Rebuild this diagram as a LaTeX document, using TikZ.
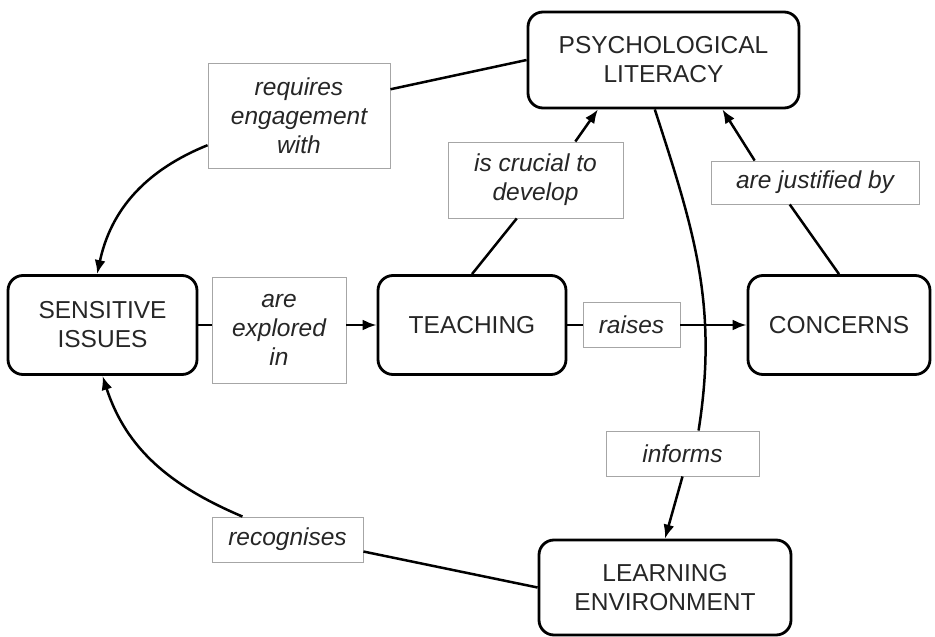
\documentclass[tikz,border=0pt]{standalone}
\usepackage{fontspec}
\setmainfont{Liberation Sans}
\usetikzlibrary{arrows.meta}

\begin{document}
\begin{tikzpicture}[x=1pt,y=1pt,
  concept/.style={draw, line width=2.8pt, rounded corners=15pt, align=center,
    text=black!85, font=\fontsize{24.5}{29}\selectfont, inner sep=0pt},
  linkword/.style={draw=black!35, line width=0.9pt, fill=white, align=center,
    text=black!85, font=\fontsize{24.5}{29}\selectfont\itshape, inner sep=0pt},
  conn/.style={line width=2.5pt},
  arr/.style={conn, -{Latex[length=14pt,width=11pt]}}]
\useasboundingbox (0,0) rectangle (935,-637);

% concepts
\node[concept, minimum width=271pt, minimum height=96pt] (psy) at (663.5,-60) {PSYCHOLOGICAL\\LITERACY};
\node[concept, minimum width=189pt, minimum height=99pt] (sens) at (102.5,-325) {SENSITIVE\\ISSUES};
\node[concept, minimum width=188pt, minimum height=99pt] (teach) at (472,-325) {TEACHING};
\node[concept, minimum width=182pt, minimum height=99pt] (conc) at (839,-325) {CONCERNS};
\node[concept, minimum width=252pt, minimum height=95pt] (learn) at (665,-587.5) {LEARNING\\ENVIRONMENT};

% linking words
\node[linkword, minimum width=182pt, minimum height=105pt] (req) at (299,-115.5) {requires\\engagement\\with};
\node[linkword, minimum width=175pt, minimum height=76pt] (cru) at (535.5,-180) {is crucial to\\develop};
\node[linkword, minimum width=208pt, minimum height=43pt] (just) at (815,-182.5) {are justified by};
\node[linkword, minimum width=134pt, minimum height=106pt] (expl) at (279,-330) {are\\explored\\in};
\node[linkword, minimum width=97pt, minimum height=45pt] (rais) at (631.5,-325) {raises};
\node[linkword, minimum width=153pt, minimum height=45pt] (inf) at (682.5,-453.5) {informs};
\node[linkword, minimum width=151pt, minimum height=45pt] (rec) at (287.5,-539.5) {recognises};

\draw[conn] (psy.west) -- (req.16);
\draw[arr] (req.198) to[out=202,in=78] (sens.96);

\draw[conn] (sens.east) -- (sens.east -| expl.west);
\draw[arr] (sens.east -| expl.east) -- (teach.west);

\draw[conn] (teach.north) -- (cru.244);
\draw[arr] (cru.44) -- (psy.217);

\draw[conn] (teach) -- (rais);
\draw[arr] (rais) -- (conc);

\draw[conn] (conc.north) -- (just.221);
\draw[arr] (just.160) -- (psy.-40);

\draw[conn] (psy.260) to[out=-72,in=81] (inf.55);
\draw[arr] (inf.south) -- (learn.north);

\draw[conn] (learn.west) -- (rec.-9);
\draw[arr] (rec.153) to[out=157,in=-72] (sens.south);

\end{tikzpicture}
\end{document}
